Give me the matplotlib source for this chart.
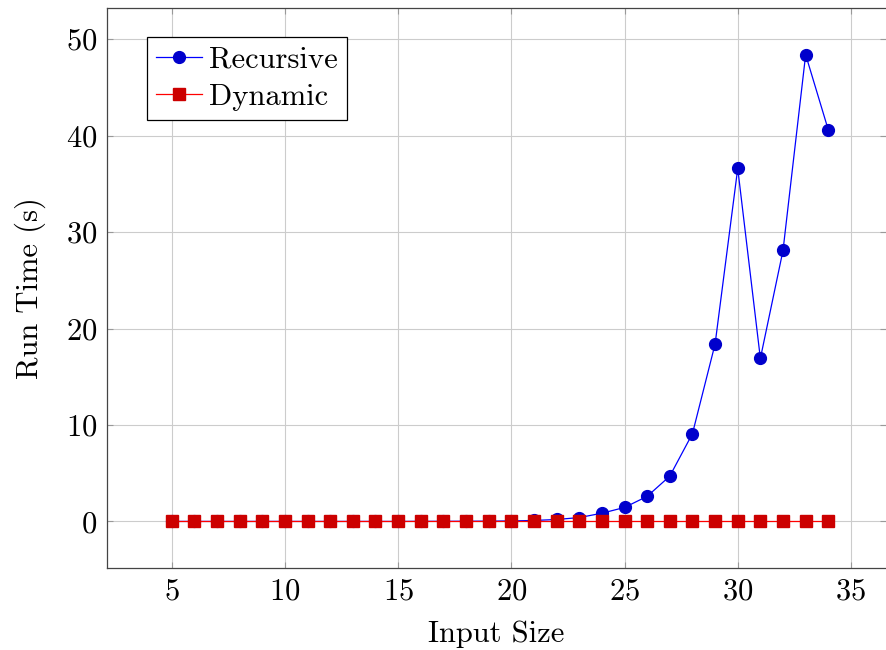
import matplotlib.pyplot as plt

plt.rcParams["font.family"] = "cmr10"
plt.rcParams["axes.formatter.use_mathtext"] = True
plt.rcParams["mathtext.fontset"] = "cm"

input_size = list(range(5, 35))
recursive = [0.0, 0.0, 0.0, 0.0, 0.0, 0.0, 0.0, 0.0, 0.0, 0.0,
             0.0, 0.01, 0.01, 0.02, 0.03, 0.05, 0.1, 0.2, 0.4, 0.85,
             1.45, 2.6, 4.7, 9.1, 18.4, 36.6, 16.9, 28.1, 48.4, 40.6]
dynamic = [0.0] * len(input_size)

fig = plt.figure(figsize=(8.87, 6.5), dpi=100)
ax = fig.add_axes([0.1206, 0.126, 0.8783, 0.8617])

ax.plot(input_size, recursive, color="blue", lw=0.9, marker="o", ms=8.5,
        mfc=(0, 0, 0.8), mec=(0, 0, 0.8), label="Recursive", zorder=3)
ax.plot(input_size, dynamic, color="red", lw=0.9, marker="s", ms=8.3,
        mfc=(0.8, 0, 0), mec=(0.8, 0, 0), label="Dynamic", zorder=4)

ax.set_xlim(2.14, 36.55)
ax.set_ylim(-4.84, 53.24)
ax.set_xticks(range(5, 36, 5))
ax.set_yticks(range(0, 51, 10))
ax.grid(True, color="#cccccc", lw=0.8)
ax.set_axisbelow(True)
ax.tick_params(direction="in", top=True, right=True, labelsize=22, length=4,
               width=0.8, color="#999999", pad=7)
for s in ax.spines.values():
    s.set_color("#444444")
    s.set_linewidth(0.9)
# the reference image is cropped just before the right axis line
ax.spines["right"].set_visible(False)

ax.set_xlabel("Input Size", fontsize=22, labelpad=11)
ax.set_ylabel("Run Time (s)", fontsize=22, labelpad=14)

leg = ax.legend(loc="upper left", bbox_to_anchor=(0.051, 0.948), fontsize=22,
                fancybox=False, edgecolor="black", framealpha=1,
                handlelength=1.5, handletextpad=0.25, borderpad=0.3,
                labelspacing=0.32, borderaxespad=0)
leg.get_frame().set_linewidth(0.9)

fig.savefig("out.png", dpi=100)
